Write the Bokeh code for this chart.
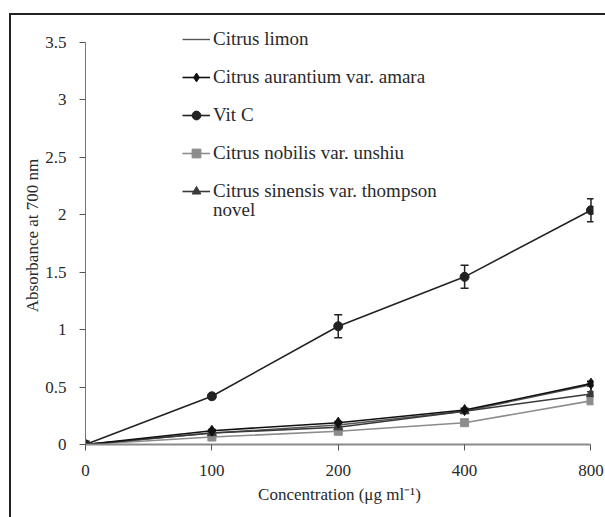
from bokeh.plotting import figure
from bokeh.layouts import column
from bokeh.models import (ColumnDataSource, FixedTicker, Legend, LegendItem, Whisker,
                          TeeHead, Range1d, CustomJSTickFormatter)
from bokeh.embed import file_html
from bokeh.resources import INLINE

x_labels = ["0", "100", "200", "400", "800"]
x_idx = [0, 1, 2, 3, 4]

limon = [0, 0.10, 0.17, 0.29, 0.52]
aurantium = [0, 0.12, 0.19, 0.30, 0.53]
aurantium_err = [0, 0.01, 0.01, 0.015, 0.02]
vit_c = [0, 0.42, 1.03, 1.46, 2.04]
vit_c_err = [0, 0.02, 0.10, 0.10, 0.10]
nobilis = [0, 0.065, 0.115, 0.19, 0.38]
sinensis = [0, 0.10, 0.15, 0.29, 0.44]
sinensis_err = [0, 0.01, 0.01, 0.015, 0.02]

y_ticks = [0, 0.5, 1, 1.5, 2, 2.5, 3, 3.5]

FONT = "Liberation Serif"
TXT = "#2a2a2a"

p = figure(width=594, height=502, output_backend="svg", toolbar_location=None,
           x_range=Range1d(0, 4.02), y_range=Range1d(0, 3.64),
           min_border_left=74, min_border_right=12, min_border_top=11, min_border_bottom=73)
p.outline_line_color = None
p.grid.visible = False

# axes
p.xaxis.ticker = FixedTicker(ticks=x_idx)
p.xaxis.major_label_overrides = {i: lab for i, lab in zip(x_idx, x_labels)}
p.xaxis.bounds = (0, 4)
p.yaxis.ticker = FixedTicker(ticks=y_ticks)
p.yaxis.formatter = CustomJSTickFormatter(code="return tick.toString()")
p.yaxis.bounds = (0, 3.5)
for ax in (p.xaxis, p.yaxis):
    ax.minor_tick_line_color = None
    ax.major_tick_in = 0
    ax.major_tick_out = 6
    ax.major_label_text_font = FONT
    ax.major_label_text_font_size = "17px"
    ax.major_label_text_color = TXT
    ax.axis_label_text_font = FONT
    ax.axis_label_text_font_size = "17px"
    ax.axis_label_text_font_style = "normal"
    ax.axis_label_text_color = TXT
p.xaxis.axis_line_color = "#8a8a8a"
p.xaxis.axis_line_width = 2
p.xaxis.major_tick_line_color = "#555555"
p.yaxis.axis_line_color = "#777777"
p.yaxis.major_tick_line_color = "#555555"
p.xaxis.axis_label = "Concentration (\u03bcg ml\u207b\u00b9)"
p.yaxis.axis_label = "Absorbance at 700 nm"
p.xaxis.major_label_standoff = 14
p.yaxis.major_label_standoff = 13
p.xaxis.axis_label_standoff = 6
p.yaxis.axis_label_standoff = 0

src = ColumnDataSource(dict(x=x_idx, limon=limon, aur=aurantium, vit=vit_c,
                            nob=nobilis, sin=sinensis,
                            vit_lo=[v - e for v, e in zip(vit_c, vit_c_err)],
                            vit_hi=[v + e for v, e in zip(vit_c, vit_c_err)],
                            aur_lo=[v - e for v, e in zip(aurantium, aurantium_err)],
                            aur_hi=[v + e for v, e in zip(aurantium, aurantium_err)],
                            sin_lo=[v - e for v, e in zip(sinensis, sinensis_err)],
                            sin_hi=[v + e for v, e in zip(sinensis, sinensis_err)]))

# series
l_nob = p.line("x", "nob", source=src, line_color="#8c8c8c", line_width=1.6)
s_nob = p.scatter("x", "nob", source=src, marker="square", size=8, color="#8c8c8c")
l_lim = p.line("x", "limon", source=src, line_color="#555555", line_width=1.4)
l_sin = p.line("x", "sin", source=src, line_color="#3a3a3a", line_width=1.6)
s_sin = p.scatter("x", "sin", source=src, marker="triangle", size=9, color="#3a3a3a")
l_aur = p.line("x", "aur", source=src, line_color="#111111", line_width=1.6)
s_aur = p.scatter("x", "aur", source=src, marker="diamond", size=11, color="#111111")
l_vit = p.line("x", "vit", source=src, line_color="#222222", line_width=1.6)
s_vit = p.scatter("x", "vit", source=src, marker="circle", size=9, color="#222222")

for lo, hi, col in (("vit_lo", "vit_hi", "#222222"), ("aur_lo", "aur_hi", "#111111"),
                    ("sin_lo", "sin_hi", "#3a3a3a")):
    w = Whisker(source=src, base="x", lower=lo, upper=hi, line_color=col, line_width=1.5,
                upper_head=TeeHead(size=8, line_color=col, line_width=1.5),
                lower_head=TeeHead(size=8, line_color=col, line_width=1.5))
    p.add_layout(w)

# invisible renderer carrying the wrapped second line of the last legend label
l_blank = p.line(x=[], y=[], line_alpha=0)


def style_legend(lg):
    lg.border_line_color = None
    lg.background_fill_alpha = 0
    lg.padding = 0
    lg.margin = 0
    lg.spacing = 16
    lg.glyph_width = 28
    lg.glyph_height = 22
    lg.label_height = 22
    lg.label_standoff = 3
    lg.label_text_font = FONT
    lg.label_text_font_size = "19px"
    lg.label_text_color = TXT


legend = Legend(items=[
    LegendItem(label="Citrus limon", renderers=[l_lim]),
    LegendItem(label="Citrus aurantium var. amara", renderers=[l_aur, s_aur]),
    LegendItem(label="Vit C", renderers=[l_vit, s_vit]),
    LegendItem(label="Citrus nobilis var. unshiu", renderers=[l_nob, s_nob]),
    LegendItem(label="Citrus sinensis var. thompson", renderers=[l_sin, s_sin]),
], location=(97, 242))
style_legend(legend)
p.add_layout(legend, "center")

legend2 = Legend(items=[LegendItem(label="novel", renderers=[l_blank])], location=(97, 223))
style_legend(legend2)
p.add_layout(legend2, "center")

layout = column(p, styles={"margin-left": "9px", "margin-top": "13px",
                           "border-left": "2px solid #222222",
                           "border-top": "2px solid #222222"})

open("out.html", "w").write(file_html(layout, INLINE))
